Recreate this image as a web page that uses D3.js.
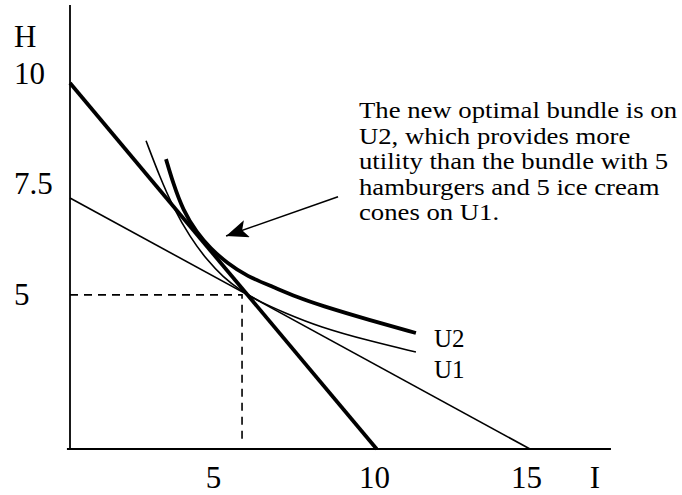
<!DOCTYPE html>
<html>
<head>
<meta charset="utf-8">
<script src="https://cdn.jsdelivr.net/npm/d3@7"></script>
<style>
  html, body { margin: 0; padding: 0; background: #fff; }
  svg { display: block; }
  text { font-family: "Liberation Serif", "Times New Roman", serif; fill: #000; }
</style>
</head>
<body>
<svg id="chart" width="682" height="495"></svg>
<script>
// ---------- data ----------
const xTickLabels = ["5", "10", "15"];
const xTickValues = [4.66, 9.91, 14.87];
const yTickLabels = ["10", "7.5", "5"];
const yTickValues = [10, 6.99, 3.96];

// budget lines [I, H]
const budgetNew = [[0, 10], [10, 0]];        // thick
const budgetOld = [[0, 6.86], [15, 0]];      // thin

// original bundle (dashed guides)
const bundleI = 5.61;
const bundleH = 4.21;

// indifference curves
const u1I = [2.48, 2.93, 3.36, 3.91, 4.47, 4.99, 5.54, 6.20, 6.95, 8.15, 9.78, 11.28];
const u1H = [8.42, 7.43, 6.61, 5.79, 5.16, 4.70, 4.34, 4.02, 3.74, 3.33, 2.95, 2.65];
const u2I = [3.13, 3.36, 3.68, 4.14, 4.57, 5.12, 5.77, 6.62, 7.40, 8.15, 9.78, 11.28];
const u2H = [7.92, 7.27, 6.53, 5.90, 5.49, 5.08, 4.72, 4.43, 4.15, 3.93, 3.52, 3.17];

// annotation arrow [I, H]
const arrowFrom = [8.74, 6.89];
const arrowTo = [5.09, 5.82];

const annotationLines = [
  "The new optimal bundle is on",
  "U2, which provides more",
  "utility than the bundle with 5",
  "hamburgers and 5 ice cream",
  "cones on U1."
];

// ---------- drawing ----------
const svg = d3.select("#chart");
const x = d3.scaleLinear().domain([0, 15]).range([70, 530]);
const y = d3.scaleLinear().domain([0, 10]).range([449, 83]);

const line = d3.line().x(d => x(d[0])).y(d => y(d[1]));
const AX = 31;

// axes lines
svg.append("line")
  .attr("x1", x(0)).attr("x2", x(0))
  .attr("y1", y(0)).attr("y2", y(12.13))
  .attr("stroke", "#000").attr("stroke-width", 1.8);
svg.append("line")
  .attr("x1", x(-0.1)).attr("x2", x(17.64))
  .attr("y1", y(0)).attr("y2", y(0))
  .attr("stroke", "#000").attr("stroke-width", 1.8);

// tick labels via d3 axes
const gx = svg.append("g").attr("transform", `translate(0,${y(0)})`)
  .call(d3.axisBottom(x).tickValues(xTickValues).tickSize(0)
    .tickFormat((d, i) => xTickLabels[i]));
gx.select(".domain").remove();
gx.selectAll("text")
  .attr("y", 39).attr("dy", 0)
  .style("font-size", AX + "px")
  .style("font-family", "'Liberation Serif', serif");

const gy = svg.append("g").attr("transform", `translate(${x(0)},0)`)
  .call(d3.axisLeft(y).tickValues(yTickValues).tickSize(0)
    .tickFormat((d, i) => yTickLabels[i]));
gy.select(".domain").remove();
gy.selectAll("text")
  .attr("x", -56).attr("dy", 0)
  .attr("text-anchor", "start")
  .style("font-size", AX + "px")
  .style("font-family", "'Liberation Serif', serif");

// axis titles
svg.append("text")
  .attr("x", x(17.12)).attr("y", y(0) + 39)
  .attr("text-anchor", "middle")
  .style("font-size", AX + "px")
  .text("I");
svg.append("text")
  .attr("x", 14).attr("y", y(10.98))
  .style("font-size", AX + "px")
  .text("H");

// dashed guides
svg.append("path")
  .attr("d", line([[0, bundleH], [bundleI, bundleH], [bundleI, 0.16]]))
  .attr("fill", "none").attr("stroke", "#000")
  .attr("stroke-width", 1.6).attr("stroke-dasharray", "8,6");

// budget lines
svg.append("path").attr("d", line(budgetOld))
  .attr("fill", "none").attr("stroke", "#000").attr("stroke-width", 1.6);
svg.append("path").attr("d", line(budgetNew))
  .attr("fill", "none").attr("stroke", "#000").attr("stroke-width", 3.8);

// indifference curves
const curve = d3.line().x(d => x(d[0])).y(d => y(d[1])).curve(d3.curveBasis);
svg.append("path").attr("d", curve(u1I.map((v, i) => [v, u1H[i]])))
  .attr("fill", "none").attr("stroke", "#000").attr("stroke-width", 1.6);
svg.append("path").attr("d", curve(u2I.map((v, i) => [v, u2H[i]])))
  .attr("fill", "none").attr("stroke", "#000").attr("stroke-width", 3.8);

// curve labels
svg.append("text")
  .attr("x", 434).attr("y", 347)
  .style("font-size", "25px").text("U2");
svg.append("text")
  .attr("x", 434).attr("y", 378)
  .style("font-size", "25px").text("U1");

// arrow
const defs = svg.append("defs");
defs.append("marker")
  .attr("id", "ah").attr("viewBox", "0 0 22 18")
  .attr("refX", 22).attr("refY", 9)
  .attr("markerWidth", 22).attr("markerHeight", 18)
  .attr("markerUnits", "userSpaceOnUse").attr("orient", "auto")
  .append("path").attr("d", "M0,0 L22,9 L0,18 L5,9 Z").attr("fill", "#000");
svg.append("path").attr("d", line([arrowFrom, arrowTo]))
  .attr("stroke", "#000").attr("stroke-width", 1.6)
  .attr("marker-end", "url(#ah)");

// annotation text
const ann = svg.append("g");
annotationLines.forEach((t, i) => {
  ann.append("text")
    .attr("transform", `translate(359,${118 + i * 25.6}) scale(1.113,1)`)
    .style("font-size", "24px")
    .text(t);
});
</script>
</body>
</html>
